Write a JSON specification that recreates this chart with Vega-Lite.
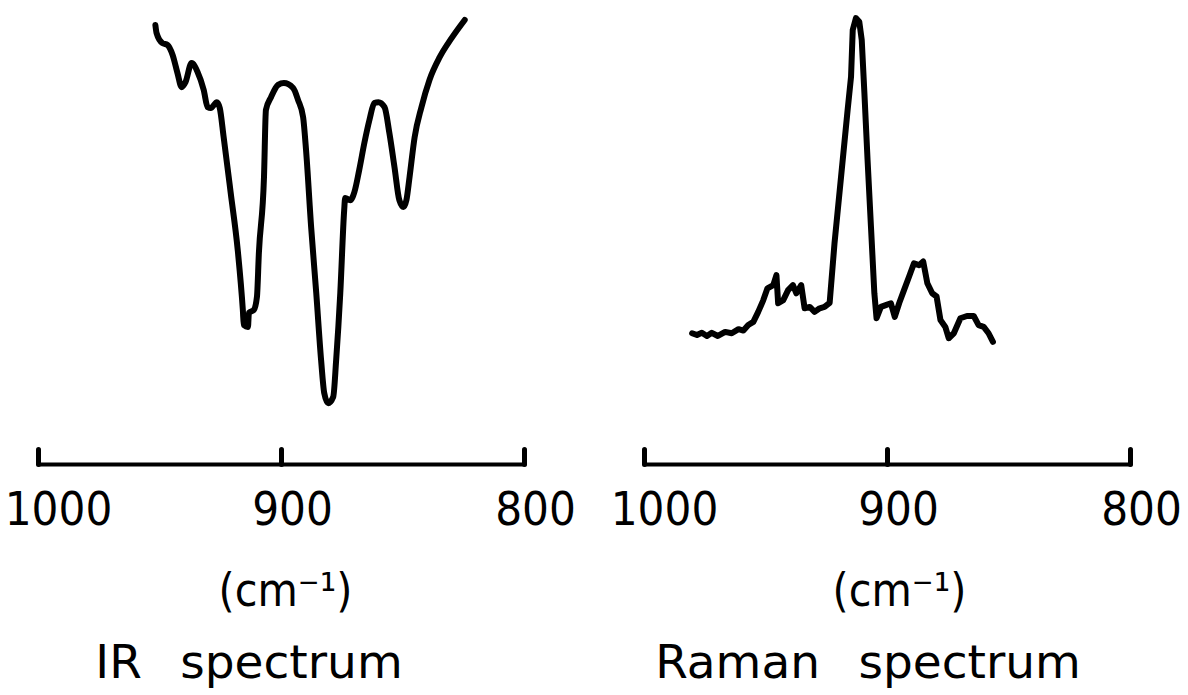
{
  "$schema": "https://vega.github.io/schema/vega-lite/v6.json",
  "background": "white",
  "padding": {"left": 4, "top": 10, "right": 0, "bottom": 4},
  "config": {"view": {"stroke": null}},
  "spacing": 120,
  "bounds": "flush",
  "datasets": {
    "ir": [
      {"wavenumber": 951.7, "transmittance": 96.7},
      {"wavenumber": 951.2, "transmittance": 94.9},
      {"wavenumber": 948.8, "transmittance": 92.7},
      {"wavenumber": 946.7, "transmittance": 92.3},
      {"wavenumber": 944.6, "transmittance": 90.1},
      {"wavenumber": 942.6, "transmittance": 86.1},
      {"wavenumber": 940.9, "transmittance": 83.0},
      {"wavenumber": 939.3, "transmittance": 84.1},
      {"wavenumber": 936.8, "transmittance": 88.3},
      {"wavenumber": 934.3, "transmittance": 86.3},
      {"wavenumber": 931.8, "transmittance": 82.4},
      {"wavenumber": 930.2, "transmittance": 78.6},
      {"wavenumber": 928.9, "transmittance": 78.4},
      {"wavenumber": 926.4, "transmittance": 79.7},
      {"wavenumber": 925.2, "transmittance": 78.4},
      {"wavenumber": 923.6, "transmittance": 72.0},
      {"wavenumber": 920.7, "transmittance": 59.7},
      {"wavenumber": 917.8, "transmittance": 47.1},
      {"wavenumber": 915.7, "transmittance": 33.9},
      {"wavenumber": 915.3, "transmittance": 30.6},
      {"wavenumber": 913.6, "transmittance": 30.2},
      {"wavenumber": 913.2, "transmittance": 33.3},
      {"wavenumber": 911.2, "transmittance": 33.9},
      {"wavenumber": 909.9, "transmittance": 36.8},
      {"wavenumber": 909.1, "transmittance": 46.5},
      {"wavenumber": 907.0, "transmittance": 63.2},
      {"wavenumber": 906.2, "transmittance": 78.0},
      {"wavenumber": 904.1, "transmittance": 80.8},
      {"wavenumber": 901.2, "transmittance": 83.5},
      {"wavenumber": 898.8, "transmittance": 83.9},
      {"wavenumber": 895.0, "transmittance": 82.8},
      {"wavenumber": 893.0, "transmittance": 80.2},
      {"wavenumber": 890.9, "transmittance": 76.4},
      {"wavenumber": 889.7, "transmittance": 69.2},
      {"wavenumber": 887.6, "transmittance": 52.2},
      {"wavenumber": 885.5, "transmittance": 37.7},
      {"wavenumber": 883.5, "transmittance": 22.9},
      {"wavenumber": 882.2, "transmittance": 15.6},
      {"wavenumber": 880.6, "transmittance": 13.4},
      {"wavenumber": 878.5, "transmittance": 14.8},
      {"wavenumber": 877.3, "transmittance": 22.9},
      {"wavenumber": 875.6, "transmittance": 37.7},
      {"wavenumber": 874.0, "transmittance": 55.9},
      {"wavenumber": 873.6, "transmittance": 58.6},
      {"wavenumber": 871.5, "transmittance": 58.1},
      {"wavenumber": 869.8, "transmittance": 59.9},
      {"wavenumber": 867.8, "transmittance": 64.8},
      {"wavenumber": 865.7, "transmittance": 70.7},
      {"wavenumber": 863.6, "transmittance": 75.8},
      {"wavenumber": 861.6, "transmittance": 79.5},
      {"wavenumber": 859.9, "transmittance": 79.7},
      {"wavenumber": 857.4, "transmittance": 78.6},
      {"wavenumber": 855.4, "transmittance": 72.9},
      {"wavenumber": 853.3, "transmittance": 65.4},
      {"wavenumber": 851.3, "transmittance": 58.1},
      {"wavenumber": 849.6, "transmittance": 56.6},
      {"wavenumber": 848.4, "transmittance": 58.1},
      {"wavenumber": 847.1, "transmittance": 63.2},
      {"wavenumber": 845.0, "transmittance": 72.0},
      {"wavenumber": 842.2, "transmittance": 78.6},
      {"wavenumber": 838.9, "transmittance": 84.6},
      {"wavenumber": 834.7, "transmittance": 89.6},
      {"wavenumber": 829.8, "transmittance": 93.8},
      {"wavenumber": 824.4, "transmittance": 97.8}
    ],
    "raman": [
      {"wavenumber": 980.2, "intensity": 28.8},
      {"wavenumber": 978.2, "intensity": 28.4},
      {"wavenumber": 976.2, "intensity": 28.9},
      {"wavenumber": 974.1, "intensity": 28.2},
      {"wavenumber": 972.1, "intensity": 28.9},
      {"wavenumber": 969.6, "intensity": 28.2},
      {"wavenumber": 966.6, "intensity": 29.1},
      {"wavenumber": 963.9, "intensity": 28.8},
      {"wavenumber": 961.1, "intensity": 29.7},
      {"wavenumber": 959.1, "intensity": 29.4},
      {"wavenumber": 957.1, "intensity": 30.6},
      {"wavenumber": 955.0, "intensity": 31.3},
      {"wavenumber": 953.0, "intensity": 33.5},
      {"wavenumber": 950.9, "intensity": 36.1},
      {"wavenumber": 949.2, "intensity": 38.7},
      {"wavenumber": 946.8, "intensity": 39.4},
      {"wavenumber": 945.5, "intensity": 41.6},
      {"wavenumber": 944.8, "intensity": 35.4},
      {"wavenumber": 942.7, "intensity": 36.1},
      {"wavenumber": 940.7, "intensity": 38.3},
      {"wavenumber": 938.7, "intensity": 39.4},
      {"wavenumber": 937.3, "intensity": 37.6},
      {"wavenumber": 935.3, "intensity": 39.4},
      {"wavenumber": 933.9, "intensity": 34.3},
      {"wavenumber": 931.8, "intensity": 34.6},
      {"wavenumber": 929.8, "intensity": 33.5},
      {"wavenumber": 927.7, "intensity": 34.3},
      {"wavenumber": 925.7, "intensity": 34.6},
      {"wavenumber": 923.6, "intensity": 35.5},
      {"wavenumber": 921.6, "intensity": 48.6},
      {"wavenumber": 918.9, "intensity": 63.3},
      {"wavenumber": 916.2, "intensity": 78.0},
      {"wavenumber": 914.8, "intensity": 85.3},
      {"wavenumber": 914.1, "intensity": 95.6},
      {"wavenumber": 912.8, "intensity": 98.2},
      {"wavenumber": 911.4, "intensity": 97.4},
      {"wavenumber": 910.4, "intensity": 93.4},
      {"wavenumber": 909.3, "intensity": 81.7},
      {"wavenumber": 908.0, "intensity": 67.0},
      {"wavenumber": 906.6, "intensity": 52.3},
      {"wavenumber": 905.2, "intensity": 37.6},
      {"wavenumber": 904.3, "intensity": 32.1},
      {"wavenumber": 902.5, "intensity": 34.6},
      {"wavenumber": 900.5, "intensity": 35.0},
      {"wavenumber": 898.4, "intensity": 35.4},
      {"wavenumber": 896.8, "intensity": 32.4},
      {"wavenumber": 895.0, "intensity": 35.4},
      {"wavenumber": 893.0, "intensity": 38.3},
      {"wavenumber": 890.9, "intensity": 41.3},
      {"wavenumber": 888.9, "intensity": 44.2},
      {"wavenumber": 886.8, "intensity": 43.8},
      {"wavenumber": 885.1, "intensity": 44.6},
      {"wavenumber": 883.4, "intensity": 39.8},
      {"wavenumber": 881.4, "intensity": 37.6},
      {"wavenumber": 879.6, "intensity": 36.9},
      {"wavenumber": 878.0, "intensity": 31.7},
      {"wavenumber": 876.0, "intensity": 30.2},
      {"wavenumber": 874.6, "intensity": 27.7},
      {"wavenumber": 872.5, "intensity": 28.8},
      {"wavenumber": 869.8, "intensity": 32.1},
      {"wavenumber": 867.1, "intensity": 32.6},
      {"wavenumber": 864.3, "intensity": 32.6},
      {"wavenumber": 862.3, "intensity": 30.6},
      {"wavenumber": 860.2, "intensity": 30.2},
      {"wavenumber": 858.2, "intensity": 28.8},
      {"wavenumber": 856.4, "intensity": 26.9}
    ]
  },
  "hconcat": [
    {
      "width": 486,
      "height": 454,
      "data": {"name": "ir"},
      "mark": {"type": "line", "color": "black", "strokeWidth": 6, "strokeCap": "round", "strokeJoin": "round", "interpolate": "monotone"},
      "encoding": {
        "x": {
          "field": "wavenumber", "type": "quantitative",
          "scale": {"domain": [800, 1000], "reverse": true, "nice": false, "zero": false},
          "axis": {
            "values": [1000, 900, 800], "format": "d", "grid": false,
            "title": "(cm⁻¹)", "titleFont": "DejaVu Sans Condensed", "titleFontSize": 46, "titleFontWeight": "normal", "titleColor": "black", "titlePadding": 36, "titleX": 247,
            "labelFont": "DejaVu Sans Condensed", "labelFontSize": 47, "labelColor": "black", "labelPadding": 38,
            "labelOffset": {"condition": {"test": "datum.value == 1000", "value": 20}, "value": 11},
            "labelFlush": false, "labelOverlap": false,
            "tickSize": -15, "tickWidth": 5, "tickColor": "black", "tickCap": "round",
            "domainWidth": 4, "domainColor": "black", "domainCap": "round"
          }
        },
        "y": {"field": "transmittance", "type": "quantitative", "scale": {"domain": [0, 100], "nice": false}, "axis": null},
        "order": {"field": "wavenumber", "sort": "descending"}
      },
      "title": {"text": "IR\u2002 spectrum", "orient": "bottom", "font": "DejaVu Sans", "fontSize": 47, "fontWeight": "normal", "color": "black", "dx": -32, "offset": 27}
    },
    {
      "width": 486,
      "height": 454,
      "data": {"name": "raman"},
      "mark": {"type": "line", "color": "black", "strokeWidth": 6, "strokeCap": "round", "strokeJoin": "round"},
      "encoding": {
        "x": {
          "field": "wavenumber", "type": "quantitative",
          "scale": {"domain": [800, 1000], "reverse": true, "nice": false, "zero": false},
          "axis": {
            "values": [1000, 900, 800], "format": "d", "grid": false,
            "title": "(cm⁻¹)", "titleFont": "DejaVu Sans Condensed", "titleFontSize": 46, "titleFontWeight": "normal", "titleColor": "black", "titlePadding": 36, "titleX": 255,
            "labelFont": "DejaVu Sans Condensed", "labelFontSize": 47, "labelColor": "black", "labelPadding": 38,
            "labelOffset": {"condition": {"test": "datum.value == 1000", "value": 20}, "value": 11},
            "labelFlush": false, "labelOverlap": false,
            "tickSize": -15, "tickWidth": 5, "tickColor": "black", "tickCap": "round",
            "domainWidth": 4, "domainColor": "black", "domainCap": "round"
          }
        },
        "y": {"field": "intensity", "type": "quantitative", "scale": {"domain": [0, 100], "nice": false}, "axis": null},
        "order": {"field": "wavenumber", "sort": "descending"}
      },
      "title": {"text": "Raman\u2002 spectrum", "orient": "bottom", "font": "DejaVu Sans", "fontSize": 47, "fontWeight": "normal", "color": "black", "dx": -19, "offset": 27}
    }
  ]
}
